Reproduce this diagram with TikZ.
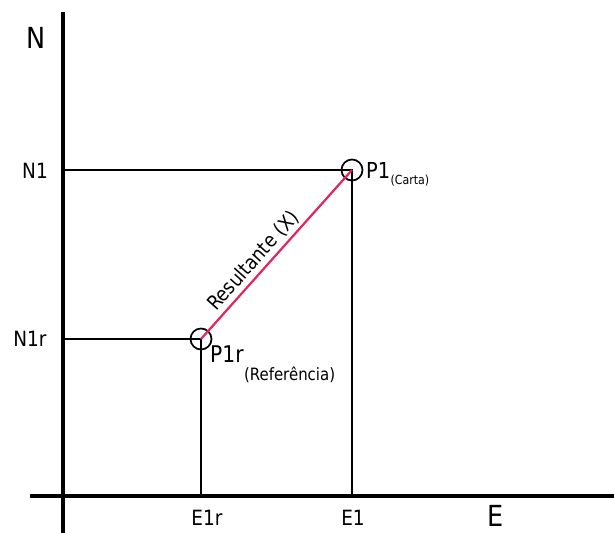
\documentclass[tikz,border=0pt]{standalone}
\usepackage{fontspec}
\setmainfont{DejaVu Sans}[FakeStretch=0.88]
\definecolor{resred}{RGB}{228,36,92}
\begin{document}
\begin{tikzpicture}[x=1pt,y=-1pt,
  axis/.style={line width=3.6pt,black},
  thin/.style={line width=1.7pt,black},
  mark circle/.style={circle,draw,line width=1.7pt,minimum size=21pt,inner sep=0pt},
  lbl/.style={inner sep=0pt,font=\fontsize{21}{24}\selectfont},
  big/.style={inner sep=0pt,font=\fontsize{29}{32}\selectfont}]
\useasboundingbox (0,0) rectangle (614,533);
% axes
\coordinate (ytop) at (63,12);
\coordinate (ybot) at (63,533);
\coordinate (xl) at (30,496);
\coordinate (xr) at (614,496);
\draw[axis] (ytop) -- (ybot);
\draw[axis] (xl) -- (xr);
% points
\node[mark circle] (P1) at (352,170) {};
\node[mark circle] (P1r) at (201,339) {};
\coordinate (yN1) at (63,170);
\coordinate (yN1r) at (63,339);
\coordinate (xE1) at (352,496);
\coordinate (xE1r) at (201,496);
\draw[thin] (yN1) -- (P1.center) -- (xE1);
\draw[thin] (yN1r) -- (P1r.center) -- (xE1r);
\draw[resred,line width=2.2pt] (P1r.center) -- node[pos=0.41,sloped,above=2pt,inner sep=1pt,text=black,font=\fontsize{20}{22}\selectfont] (res) {Resultante (X)} (P1.center);
% labels
\node[big] (N) at (36,38) {N};
\node[big] (E) at (496,516) {E};
\node[lbl] (N1) at (35,171) {N1};
\node[lbl] (N1r) at (30,339) {N1r};
\node[lbl] (E1r) at (207,518) {E1r};
\node[lbl] (E1) at (353,518) {E1};
\node[inner sep=0pt,anchor=base west,font=\fontsize{22}{24}\selectfont] (P1lab) at (366,178) {P1};
\node[inner sep=0pt,anchor=base west,font=\fontsize{12.5}{14}\selectfont] (P1sub) at (P1lab.base east) [yshift=-6pt] {(Carta)};
\node[inner sep=0pt,anchor=base west,font=\fontsize{23}{25}\selectfont] (P1rlab) at (210,362) {P1r};
\node[inner sep=0pt,anchor=base west,font=\fontsize{17}{19}\selectfont] (P1rsub) at (P1rlab.base east) [yshift=-18pt] {(Referência)};
\end{tikzpicture}
\end{document}
